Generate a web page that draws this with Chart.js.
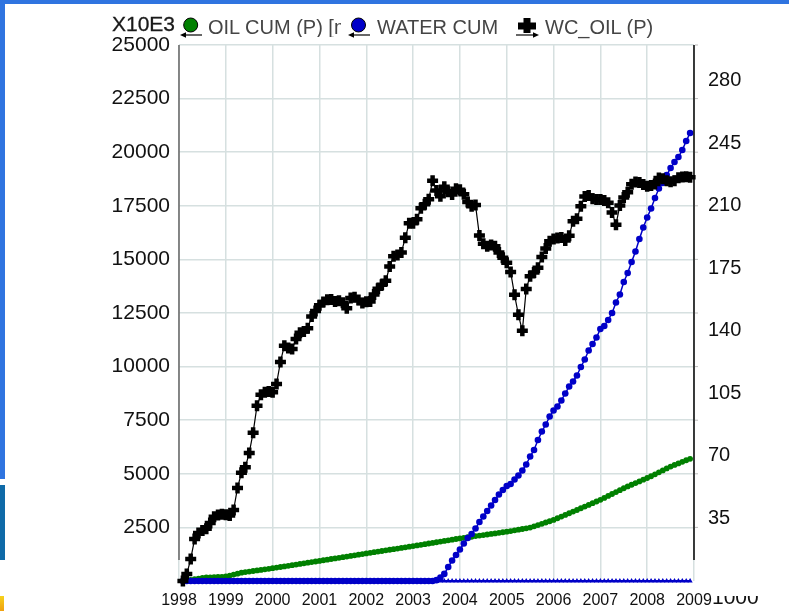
<!DOCTYPE html>
<html lang="en">
<head>
<meta charset="UTF-8">
<title>OIL CUM / WATER CUM / WC_OIL</title>
<script src="https://cdn.jsdelivr.net/npm/chart.js@4.4.0/dist/chart.umd.min.js"></script>
<style>
  body { margin: 0; background: #fff; font-family: "Liberation Sans", Arial, sans-serif; }
  #wrap { position: relative; width: 789px; height: 611px; overflow: hidden; }
  #prodChart { position: absolute; left: 0; top: 0; }
  .txt { position: absolute; white-space: nowrap; line-height: 1; }
  .deco { position: absolute; }
</style>
</head>
<body>
<div id="wrap">
  <canvas id="prodChart" width="789" height="611"></canvas>

  <!-- window frame leftovers -->
  <div class="deco" style="left:0;top:0;width:789px;height:4px;background:#2f74e0"></div>
  <div class="deco" style="left:0;top:0;width:5px;height:479px;background:#2f74e0"></div>
  <div class="deco" style="left:0;top:485px;width:5px;height:75px;background:#0f6aa8"></div>
  <div class="deco" style="left:0;top:596px;width:4px;height:15px;background:linear-gradient(#f6d21c,#f0a010)"></div>

  <!-- legend -->
  <div class="txt" style="left:112px;top:13px;font-size:21px;color:#1a1a1a;-webkit-text-stroke:0.3px #1a1a1a">X10E3</div>
  <svg class="deco" style="left:0;top:0" width="789" height="45">
    <circle cx="190.7" cy="25" r="7" fill="#008000" stroke="#000" stroke-width="1"/>
    <line x1="184" y1="35" x2="202" y2="35" stroke="#000" stroke-width="1.2"/>
    <polygon points="180,35 186,32.3 186,37.7" fill="#000"/>
    <circle cx="358.5" cy="25" r="7" fill="#0000c8" stroke="#000" stroke-width="1"/>
    <line x1="352" y1="35" x2="370" y2="35" stroke="#000" stroke-width="1.2"/>
    <polygon points="348,35 354,32.3 354,37.7" fill="#000"/>
    <rect x="518" y="22.5" width="18" height="7" fill="#000"/>
    <rect x="523.5" y="18" width="7" height="15" fill="#000"/>
    <line x1="516" y1="35" x2="534" y2="35" stroke="#000" stroke-width="1.2"/>
    <polygon points="539,35 533,32.3 533,37.7" fill="#000"/>
  </svg>
  <div class="txt" style="left:208px;top:17px;width:133px;overflow:hidden;font-size:20px;color:#454545">OIL CUM (P) [mbbl]</div>
  <div class="txt" style="left:377px;top:17px;font-size:20px;color:#454545">WATER CUM</div>
  <div class="txt" style="left:545px;top:17px;font-size:20px;color:#454545">WC_OIL (P)</div>

  <!-- clipped unit label at bottom right -->
  <div class="deco" style="left:712px;top:596px;width:60px;height:15px;overflow:hidden">
    <div class="txt" style="left:0;top:-10px;font-size:21px;color:#111">1000</div>
  </div>
</div>

<script>
// monthly samples, first one at the end of Jan 1998
const firstMonth = 1998 + 1 / 12;

// tick labels
const leftTicks = [2500, 5000, 7500, 10000, 12500, 15000, 17500, 20000, 22500, 25000];
const rightTicks = [35, 70, 105, 140, 175, 210, 245, 280];

// OIL CUM (P), X10E3
const oilCum = [
  0, 28, 57, 85, 113, 141, 163, 170, 178, 186,
  194, 209, 253, 298, 342, 387, 414, 440, 466, 492,
  518, 544, 570, 597, 625, 653, 682, 710, 739, 767,
  796, 824, 853, 881, 910, 938, 967, 996, 1025, 1054,
  1083, 1112, 1141, 1170, 1199, 1228, 1257, 1286, 1315, 1343,
  1372, 1400, 1429, 1457, 1486, 1514, 1542, 1571, 1599, 1628,
  1658, 1688, 1718, 1748, 1778, 1808, 1838, 1868, 1898, 1928,
  1958, 1988, 2015, 2040, 2062, 2095, 2118, 2144, 2170, 2195,
  2221, 2247, 2273, 2299, 2330, 2362, 2394, 2426, 2458, 2490,
  2549, 2609, 2668, 2728, 2787, 2847, 2926, 3004, 3082, 3160,
  3237, 3312, 3393, 3472, 3550, 3629, 3708, 3785, 3876, 3966,
  4057, 4147, 4237, 4326, 4412, 4489, 4567, 4644, 4724, 4804,
  4886, 4977, 5068, 5159, 5249, 5338, 5412, 5486, 5559, 5632, 5700
];

// WATER CUM, X10E3
const waterCum = [
  0, 0, 0, 0, 0, 0, 0, 0, 0, 0, 0, 0, 0,
  0, 0, 0, 0, 0, 0, 0, 0, 0, 0, 0, 0, 0,
  0, 0, 0, 0, 0, 0, 0, 0, 0, 0, 0, 0, 0,
  0, 0, 0, 0, 0, 0, 0, 0, 0, 0, 0, 0, 0,
  0, 0, 0, 0, 0, 0, 0, 0, 0, 0, 0, 0, 0,
  40, 160, 330, 650, 955, 1210, 1470, 1750, 2005, 2190,
  2450, 2750, 3010, 3265, 3520, 3780, 4035, 4245, 4430, 4525,
  4735, 4920, 5155, 5435, 5805, 6110, 6575, 6970, 7300, 7670,
  7950, 8140, 8420, 8745, 9070, 9305, 9585, 9980, 10330, 10750,
  11055, 11355, 11755, 11895, 12175, 12500, 12990, 13360, 13945, 14365,
  14880, 15370, 15950, 16490, 16955, 17375, 17865, 18305, 18565, 18935,
  19260, 19540, 19775, 20100, 20520, 20895
];

// blue triangles lying on the zero line
const waterBase = [
  0, 0, 0, 0, 0, 0, 0, 0, 0, 0, 0, 0, 0, 0, 0, 0, 0, 0, 0, 0,
  0, 0, 0, 0, 0, 0, 0, 0, 0, 0, 0, 0, 0, 0, 0, 0, 0, 0, 0, 0,
  0, 0, 0, 0, 0, 0, 0, 0, 0, 0, 0, 0, 0, 0, 0, 0, 0, 0, 0, 0,
  0, 0, 0, 0, 0, 0, 0, 0, 0, 0, 0, 0, 0, 0, 0, 0, 0, 0, 0, 0,
  0, 0, 0, 0, 0, 0, 0, 0, 0, 0, 0, 0, 0, 0, 0, 0, 0, 0, 0, 0,
  0, 0, 0, 0, 0, 0, 0, 0, 0, 0, 0, 0, 0, 0, 0, 0, 0, 0, 0, 0,
  0, 0, 0, 0, 0, 0, 0, 0, 0, 0, 0
];

// WC_OIL (P), right axis
const wcOil = [
  0, 3.9, 12.3, 23.5, 26.9, 28.2, 29.3, 32.5, 35.9, 37,
  37.4, 37.1, 36.6, 39.8, 52.1, 60.6, 63.7, 71.7, 83, 98.1,
  104.2, 105.6, 106, 105.7, 110.3, 122.6, 131.7, 130.4, 129.9, 135.4,
  139, 139.7, 141.4, 148, 151.1, 154.3, 156.1, 157.4, 157.5, 156.4,
  156.9, 155.8, 152.7, 158.4, 158.8, 157.3, 155.6, 156.3, 156.4, 160.3,
  163.6, 165.8, 168, 176, 181.7, 182.4, 183.9, 192.1, 200.3, 200.3,
  202.5, 208.6, 210.8, 213.6, 224, 218.6, 215.3, 220.6, 217.8, 216.3,
  219.5, 219, 216.5, 212.1, 209.7, 210.4, 193.4, 188.8, 187.3, 188,
  187.4, 183.8, 180.9, 178.1, 173, 160.2, 149, 140, 163.5, 170.6,
  172.6, 175.3, 181.4, 186.1, 190.2, 191.4, 192, 192.3, 190.6, 193.2,
  201.4, 202.7, 209.8, 215.2, 215.8, 214, 213.5, 213.5, 212.9, 211.7,
  206.2, 199.4, 210.2, 214.7, 217.6, 222, 223.3, 223, 221.9, 221,
  221.3, 222.2, 225.5, 225.2, 224, 223.4, 224, 225.7, 226.1, 226.2, 226
];

const toPoints = arr => arr.map((v, i) => ({ x: firstMonth + i / 12, y: v }));

const gridColor = 'rgb(214, 224, 224)';

// axis lines stop a little above the zero line, like in the original
const axisLines = {
  id: 'axisLines',
  afterDatasetsDraw(chart) {
    const a = chart.chartArea;
    const c = chart.ctx;
    const yScale = chart.scales.y;
    c.save();
    c.lineWidth = 1.5;
    c.strokeStyle = '#666';
    c.beginPath();
    c.moveTo(a.left, a.top);
    c.lineTo(a.left, a.bottom - 21);
    c.stroke();
    c.strokeStyle = '#000';
    c.beginPath();
    c.moveTo(a.right, a.top);
    c.lineTo(a.right, a.bottom - 21);
    c.stroke();
    c.lineWidth = 1;
    c.strokeStyle = '#bbb';
    leftTicks.forEach(v => {
      const py = yScale.getPixelForValue(v);
      if (py > a.bottom - 21) return;
      c.beginPath();
      c.moveTo(a.right + 1, py);
      c.lineTo(a.right + 4, py);
      c.stroke();
    });
    c.restore();
  }
};

new Chart(document.getElementById('prodChart'), {
  type: 'line',
  data: {
    datasets: [
      {
        label: 'WC_OIL (P)',
        data: toPoints(wcOil),
        yAxisID: 'y2',
        borderColor: '#000',
        borderWidth: 1.2,
        pointStyle: 'cross',
        pointRadius: 5.5,
        pointBorderWidth: 4.5,
        pointBorderColor: '#000',
        order: 0,
        clip: false
      },
      {
        label: 'WATER CUM',
        data: toPoints(waterCum),
        yAxisID: 'y',
        borderColor: '#0000c8',
        borderWidth: 1.5,
        pointRadius: 3.3,
        pointBorderWidth: 0,
        pointBackgroundColor: '#0000c8',
        order: 1,
        clip: false
      },
      {
        label: 'water base',
        data: toPoints(waterBase),
        yAxisID: 'y',
        borderColor: '#0000c8',
        borderWidth: 2,
        pointStyle: 'triangle',
        pointRadius: 3,
        pointBorderWidth: 0,
        pointBackgroundColor: '#0000c8',
        order: 2,
        clip: false
      },
      {
        label: 'OIL CUM (P)',
        data: toPoints(oilCum),
        yAxisID: 'y',
        borderColor: '#008000',
        borderWidth: 1.5,
        pointRadius: 2.9,
        pointBorderWidth: 0,
        pointBackgroundColor: '#008000',
        order: 3,
        clip: false
      }
    ]
  },
  options: {
    responsive: false,
    animation: false,
    layout: { padding: { top: 45, left: 0, right: 0, bottom: 0 } },
    plugins: {
      legend: { display: false },
      tooltip: { enabled: false }
    },
    scales: {
      x: {
        type: 'linear',
        position: 'bottom',
        min: 1998,
        max: 2009,
        afterFit: s => { s.height = 30; },
        ticks: {
          stepSize: 1,
          callback: v => String(v),
          font: { family: 'Liberation Sans', size: 16 },
          color: '#111',
          padding: 10,
          maxRotation: 0
        },
        grid: { color: gridColor, lineWidth: 1.5, drawTicks: false },
        border: { display: false }
      },
      y: {
        position: 'left',
        min: 0,
        max: 25000,
        afterFit: s => { s.width = 179; },
        afterBuildTicks: s => { s.ticks = leftTicks.map(v => ({ value: v })); },
        ticks: {
          callback: v => String(v),
          font: { family: 'Liberation Sans', size: 21 },
          color: '#111',
          padding: 9
        },
        grid: { color: gridColor, lineWidth: 1.5, drawTicks: false },
        border: { display: false }
      },
      y2: {
        position: 'right',
        min: 0,
        max: 300,
        afterFit: s => { s.width = 95; },
        afterBuildTicks: s => { s.ticks = rightTicks.map(v => ({ value: v })); },
        ticks: {
          callback: v => String(v),
          font: { family: 'Liberation Sans', size: 20 },
          color: '#111',
          padding: 14
        },
        grid: { display: false, drawTicks: false },
        border: { display: false }
      }
    }
  },
  plugins: [axisLines]
});
</script>
</body>
</html>
